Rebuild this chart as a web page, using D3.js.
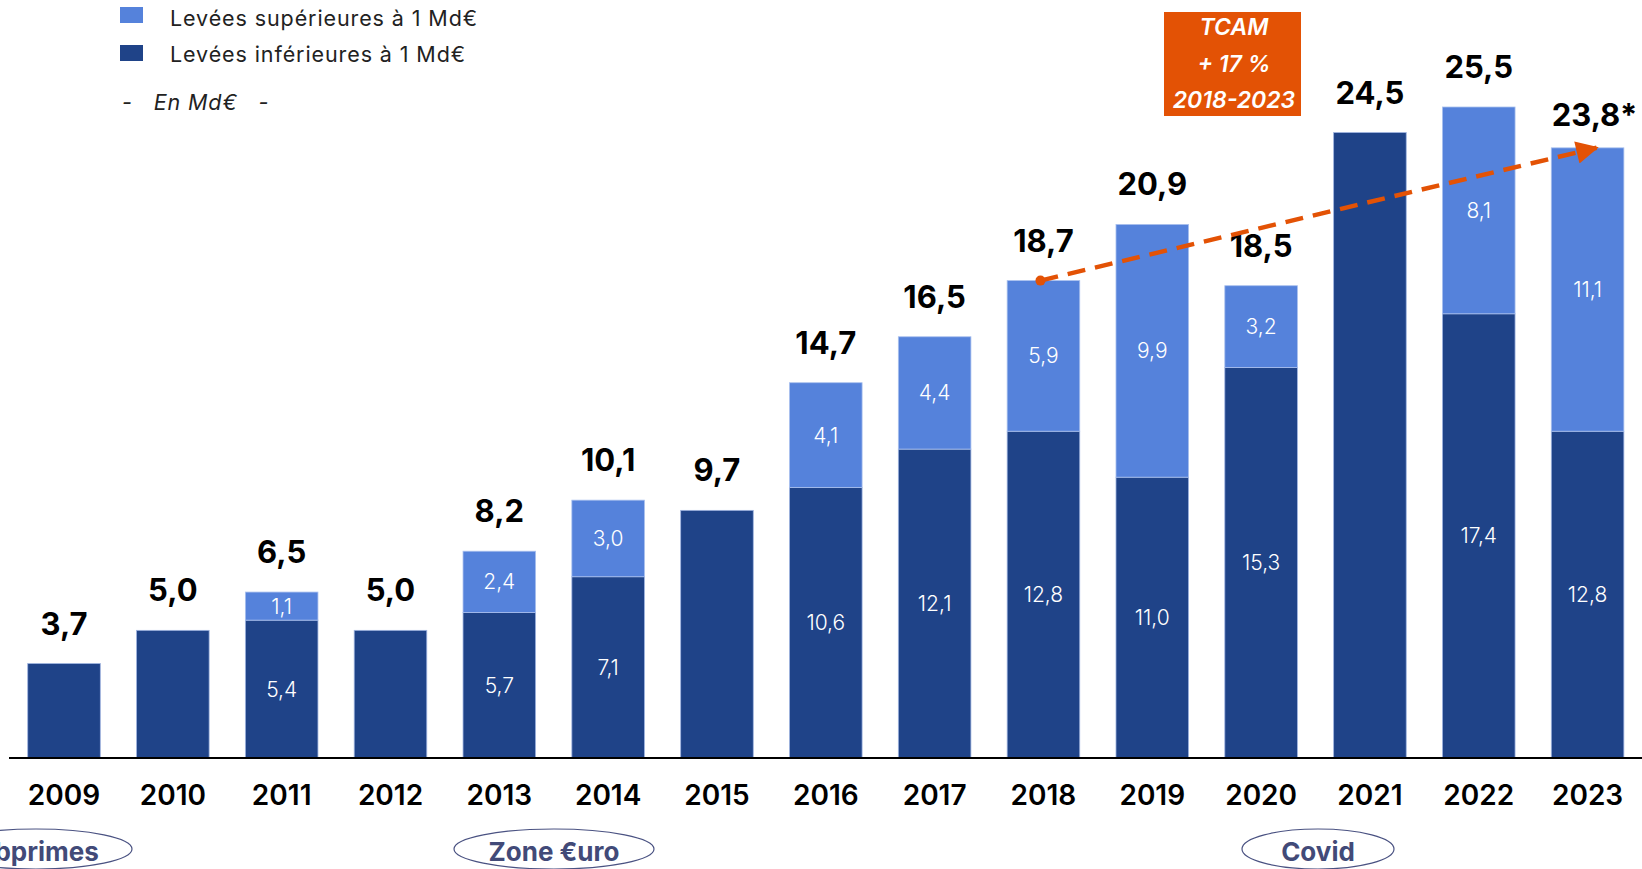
<!DOCTYPE html>
<html>
<head>
<meta charset="utf-8">
<script src="https://cdn.jsdelivr.net/npm/d3@7"></script>
<style>
  body { margin: 0; background: #fff; }
  svg { display: block; font-family: Inter, "Noto Sans", sans-serif; }
</style>
</head>
<body>
<div id="chart"></div>
<script>
const years = ['2009', '2010', '2011', '2012', '2013', '2014', '2015', '2016', '2017', '2018', '2019', '2020', '2021', '2022', '2023'];
const below = [3.7, 5.0, 5.4, 5.0, 5.7, 7.1, 9.7, 10.6, 12.1, 12.8, 11.0, 15.3, 24.5, 17.4, 12.8];
const above = [0, 0, 1.1, 0, 2.4, 3.0, 0, 4.1, 4.4, 5.9, 9.9, 3.2, 0, 8.1, 11.1];
const totals = ['3,7', '5,0', '6,5', '5,0', '8,2', '10,1', '9,7', '14,7', '16,5', '18,7', '20,9', '18,5', '24,5', '25,5', '23,8*'];
const eventLabels = ['Subprimes', 'Zone €uro', 'Covid'];
const cagrLines = ['TCAM', '+ 17 %', '2018-2023'];
const cagrFrom = '2018';
const cagrTo = '2023';

const width = 1642;
const height = 869;
const dark = '#1f4388';
const light = '#5582db';
const orange = '#e35205';

// where the event ovals sit (x centre, half width, text offset)
const eventLayout = [
  { cx: 36, rx: 96, dx: -6 },
  { cx: 554, rx: 100, dx: 0 },
  { cx: 1318, rx: 76, dx: 0 }
];

const fmt = (v) => v.toFixed(1).replace('.', ',');

const svg = d3
  .select('#chart')
  .append('svg')
  .attr('width', width)
  .attr('height', height);

const x = d3
  .scaleBand()
  .domain(years)
  .range([9.6, 1642])
  .paddingInner(0.333)
  .paddingOuter(0.1665);

const y = d3.scaleLinear().domain([0, 25.5]).range([758, 107]);

const rows = years.map((yr, i) => ({ year: yr, below: below[i], above: above[i], total: totals[i] }));

// bars
const g = svg.append('g');
g.selectAll('rect.below')
  .data(rows)
  .join('rect')
  .attr('class', 'below')
  .attr('x', (d) => x(d.year))
  .attr('y', (d) => y(d.below))
  .attr('width', x.bandwidth())
  .attr('height', (d) => y(0) - y(d.below))
  .attr('fill', dark)
  .attr('stroke', '#9fb4e0')
  .attr('stroke-width', 0.8);

g.selectAll('rect.above')
  .data(rows.filter((d) => d.above > 0))
  .join('rect')
  .attr('class', 'above')
  .attr('x', (d) => x(d.year))
  .attr('y', (d) => y(d.below + d.above))
  .attr('width', x.bandwidth())
  .attr('height', (d) => y(d.below) - y(d.below + d.above))
  .attr('fill', light)
  .attr('stroke', '#a9c0ee')
  .attr('stroke-width', 0.8);

// inner labels
const inner = rows.filter((d) => d.above > 0);
g.selectAll('text.in-below')
  .data(inner)
  .join('text')
  .attr('x', (d) => x(d.year) + x.bandwidth() / 2)
  .attr('y', (d) => (y(0) + y(d.below)) / 2)
  .attr('dy', '0.36em')
  .attr('text-anchor', 'middle')
  .attr('fill', '#fff')
  .attr('font-size', 21)
  .attr('font-weight', 300)
  .text((d) => fmt(d.below));

g.selectAll('text.in-above')
  .data(inner)
  .join('text')
  .attr('x', (d) => x(d.year) + x.bandwidth() / 2)
  .attr('y', (d) => (y(d.below) + y(d.below + d.above)) / 2)
  .attr('dy', '0.36em')
  .attr('text-anchor', 'middle')
  .attr('fill', '#fff')
  .attr('font-size', 21)
  .attr('font-weight', 300)
  .text((d) => fmt(d.above));

// totals
g.selectAll('text.total')
  .data(rows)
  .join('text')
  .attr('x', (d, i) => x(d.year) + x.bandwidth() / 2 + (i === years.length - 1 ? 7 : 0))
  .attr('y', (d, i) => y(d.below + d.above) - (i === years.length - 1 ? 22 : 29))
  .attr('text-anchor', 'middle')
  .attr('fill', '#000')
  .attr('font-size', 31)
  .attr('font-weight', 700)
  .text((d) => d.total);

// baseline axis
const axis = svg.append('g').attr('transform', `translate(0, ${y(0)})`).call(d3.axisBottom(x).tickSize(0).tickPadding(27));
axis.select('.domain').attr('stroke', '#000').attr('stroke-width', 2).attr('d', 'M9,0H1642');
axis.selectAll('text')
  .attr('font-family', 'Inter, "Noto Sans", sans-serif')
  .attr('font-size', 28)
  .attr('font-weight', 600)
  .attr('fill', '#000');

// CAGR arrow
const i0 = years.indexOf(cagrFrom);
const i1 = years.indexOf(cagrTo);
const x0 = x(cagrFrom) + x.bandwidth() / 2 - 3;
const y0 = y(below[i0] + above[i0]);
const x1 = x(cagrTo) + x.bandwidth() / 2 + 13;
const y1 = y(below[i1] + above[i1]) - 1;
const slope = (y0 - y1) / (x1 - x0);

svg.append('defs')
  .append('marker')
  .attr('id', 'arrow')
  .attr('viewBox', '0 0 10 10')
  .attr('refX', 9)
  .attr('refY', 5)
  .attr('markerWidth', 6)
  .attr('markerHeight', 5)
  .attr('markerUnits', 'strokeWidth')
  .attr('orient', 'auto')
  .append('path')
  .attr('d', 'M0,0L10,5L0,10Z')
  .attr('fill', orange);

svg.append('line')
  .attr('x1', x0)
  .attr('y1', y0)
  .attr('x2', x1 - 10)
  .attr('y2', y1 + 10 * slope)
  .attr('stroke', orange)
  .attr('stroke-width', 4.5)
  .attr('stroke-dasharray', '18 10');

svg.append('line')
  .attr('x1', x1 - 12)
  .attr('y1', y1 + 12 * slope)
  .attr('x2', x1 - 4)
  .attr('y2', y1 + 4 * slope)
  .attr('stroke', orange)
  .attr('stroke-width', 4.5)
  .attr('marker-end', 'url(#arrow)');

svg.append('circle').attr('cx', x0).attr('cy', y0).attr('r', 5).attr('fill', orange);

// CAGR box
const box = svg.append('g').attr('transform', 'translate(1164, 12)');
box.append('rect').attr('width', 137).attr('height', 104).attr('fill', orange);
box.selectAll('text')
  .data(cagrLines)
  .join('text')
  .attr('x', 70)
  .attr('y', (d, i) => 23 + i * 36.5)
  .attr('text-anchor', 'middle')
  .attr('fill', '#fff')
  .attr('font-size', 23)
  .attr('font-weight', 600)
  .attr('font-style', 'italic')
  .text((d) => d);

// legend
const legend = svg.append('g');
const legendItems = [
  { label: 'Levées supérieures à 1 Md€', color: light },
  { label: 'Levées inférieures à 1 Md€', color: dark }
];
legendItems.forEach((d, i) => {
  legend.append('rect')
    .attr('x', 120)
    .attr('y', 7 + i * 38)
    .attr('width', 23)
    .attr('height', 16)
    .attr('fill', d.color);
  legend.append('text')
    .attr('x', 170)
    .attr('y', 26 + i * 36)
    .attr('font-size', 21.5)
    .attr('letter-spacing', 0.9)
    .attr('fill', '#222')
    .text(d.label);
});
legend.append('text')
  .attr('x', 122)
  .attr('y', 110)
  .attr('font-size', 21.5)
  .attr('letter-spacing', 0.9)
  .attr('font-style', 'italic')
  .attr('fill', '#222')
  .style('white-space', 'pre')
  .text('-   En Md€   -');

// events
const ev = svg.append('g');
const evData = eventLabels.map((label, i) => ({ label, ...eventLayout[i] }));
ev.selectAll('ellipse')
  .data(evData)
  .join('ellipse')
  .attr('cx', (d) => d.cx)
  .attr('cy', 849)
  .attr('rx', (d) => d.rx)
  .attr('ry', 20)
  .attr('fill', 'none')
  .attr('stroke', '#4a5282')
  .attr('stroke-width', 1.2);
ev.selectAll('text')
  .data(evData)
  .join('text')
  .attr('x', (d) => d.cx + d.dx)
  .attr('y', 861)
  .attr('text-anchor', 'middle')
  .attr('font-size', 26)
  .attr('font-weight', 700)
  .attr('fill', '#424a78')
  .text((d) => d.label);
</script>
</body>
</html>
